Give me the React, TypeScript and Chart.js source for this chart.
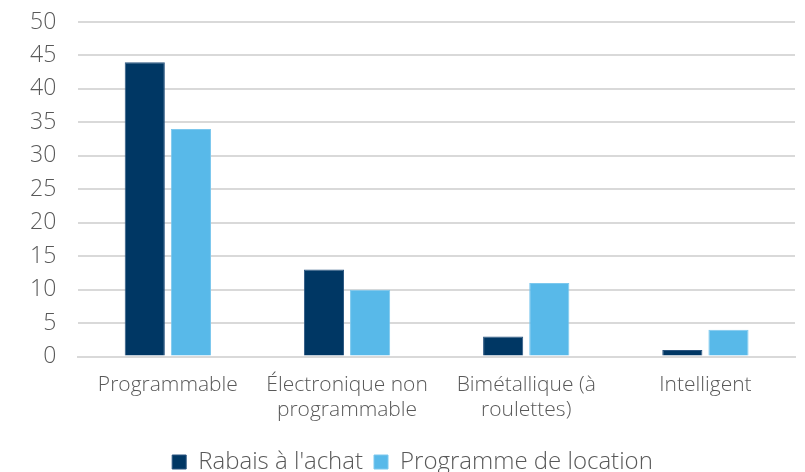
import React, { useEffect, useRef } from "react";
import { Chart, registerables } from "chart.js";

Chart.register(...registerables);

const categories: (string | string[])[] = [
  "Programmable",
  ["Électronique non", "programmable"],
  ["Bimétallique (à", "roulettes)"],
  "Intelligent",
];
const rabais = [44, 13, 3, 1];
const location = [34, 10, 11, 4];
const yTicks = [0, 5, 10, 15, 20, 25, 30, 35, 40, 45, 50];

const FONT = "'Open Sans', 'Noto Sans', sans-serif";

export default function App() {
  const ref = useRef<HTMLCanvasElement | null>(null);
  useEffect(() => {
    if (!ref.current) return;
    const chart = new Chart(ref.current, {
      type: "bar",
      data: {
        labels: categories,
        datasets: [
          {
            label: "Rabais à l'achat",
            data: rabais,
            backgroundColor: "#003764",
            borderColor: "#2a5580",
            borderWidth: 1,
            barPercentage: 0.87,
            categoryPercentage: 0.515,
          },
          {
            label: "Programme de location",
            data: location,
            backgroundColor: "#58B9E9",
            borderColor: "#7cc8ee",
            borderWidth: 1,
            barPercentage: 0.87,
            categoryPercentage: 0.515,
          },
        ],
      },
      options: {
        animation: false,
        responsive: true,
        maintainAspectRatio: false,
        layout: { padding: { top: 22, right: 10, left: 30, bottom: -12 } },
        plugins: {
          legend: {
            position: "bottom",
            labels: {
              boxWidth: 14,
              boxHeight: 14,
              padding: 11,
              color: "#595959",
              font: { family: FONT, size: 24, weight: 300 },
            },
          },
          tooltip: { enabled: false },
        },
        scales: {
          x: {
            grid: { display: false, drawTicks: false },
            border: { display: true, color: "#d9d9d9", width: 2 },
            ticks: {
              color: "#595959",
              font: { family: FONT, size: 21, weight: 300, lineHeight: 1.2 },
              padding: 16,
              maxRotation: 0,
              autoSkip: false,
            },
          },
          y: {
            min: 0,
            max: 50,
            afterBuildTicks: (axis: any) => {
              axis.ticks = yTicks.map((v) => ({ value: v }));
            },
            grid: {
              color: "#d9d9d9",
              lineWidth: 2,
              drawTicks: true,
              tickLength: 22,
              tickColor: "rgba(0,0,0,0)",
            },
            border: { display: false },
            ticks: {
              color: "#595959",
              font: { family: FONT, size: 23, weight: 300 },
              padding: 0,
            },
          },
        },
      },
    });
    return () => chart.destroy();
  }, []);
  return (
    <div style={{ position: "fixed", left: 0, top: 0, width: 805, height: 472, background: "#fff" }}>
      <canvas ref={ref} />
    </div>
  );
}
